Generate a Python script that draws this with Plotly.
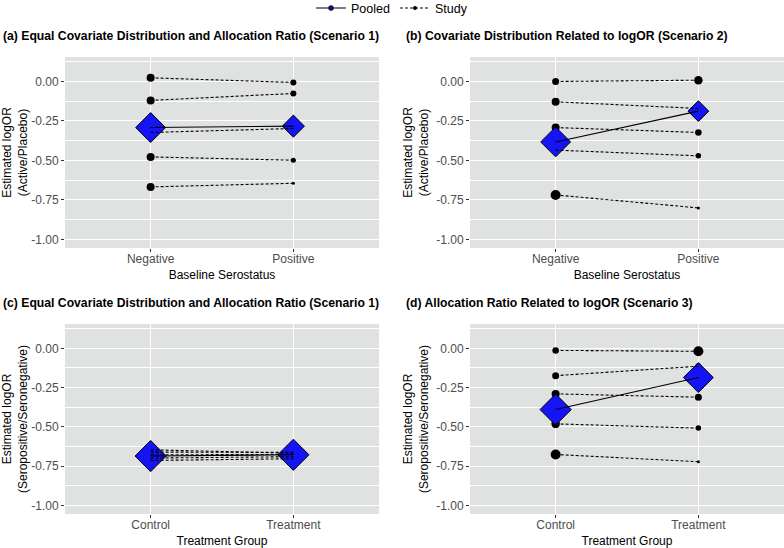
import plotly.graph_objects as go

# ---------------- data ----------------
top_groups = ["Negative", "Positive"]
bottom_groups = ["Control", "Treatment"]
y_tick_vals = [0.0, -0.25, -0.5, -0.75, -1.0]
y_tick_text = ["0.00", "-0.25", "-0.50", "-0.75", "-1.00"]
y_minor_vals = [0.125, -0.125, -0.375, -0.625, -0.875]

titles = [
    "(a) Equal Covariate Distribution and Allocation Ratio (Scenario 1)",
    "(b) Covariate Distribution Related to logOR (Scenario 2)",
    "(c) Equal Covariate Distribution and Allocation Ratio (Scenario 1)",
    "(d) Allocation Ratio Related to logOR (Scenario 3)",
]
y_titles = [
    "Estimated logOR<br>(Active/Placebo)",
    "Estimated logOR<br>(Active/Placebo)",
    "Estimated logOR<br>(Seropositive/Seronegative)",
    "Estimated logOR<br>(Seropositive/Seronegative)",
]
x_titles = ["Baseline Serostatus", "Baseline Serostatus", "Treatment Group", "Treatment Group"]

# panel (a)
a_study_g1 = [0.023, -0.120, -0.323, -0.478, -0.668]
a_study_g2 = [-0.006, -0.076, -0.298, -0.499, -0.645]
a_weight_g1 = [8, 8, 8, 8, 8]
a_weight_g2 = [6, 6, 5, 5, 3]
a_pooled = [-0.292, -0.283]
a_pooled_weight = [23, 17]

# panel (b)
b_study_g1 = [0.000, -0.129, -0.292, -0.435, -0.719]
b_study_g2 = [0.008, -0.171, -0.323, -0.471, -0.801]
b_weight_g1 = [7, 8, 8, 6, 10]
b_weight_g2 = [8.5, 4, 6.5, 5.5, 3]
b_pooled = [-0.383, -0.188]
b_pooled_weight = [23, 16]

# panel (c)
c_study_g1 = [-0.646, -0.661, -0.678, -0.699, -0.714]
c_study_g2 = [-0.668, -0.662, -0.676, -0.690, -0.703]
c_weight_g1 = [5, 5, 5, 5, 5]
c_weight_g2 = [5, 5, 5, 5, 5]
c_pooled = [-0.686, -0.678]
c_pooled_weight = [24, 24]

# panel (d)
d_study_g1 = [-0.013, -0.174, -0.290, -0.481, -0.676]
d_study_g2 = [-0.019, -0.114, -0.311, -0.508, -0.722]
d_weight_g1 = [6.5, 7, 8, 8.5, 10]
d_weight_g2 = [10, 6, 7, 5.5, 3]
d_pooled = [-0.390, -0.186]
d_pooled_weight = [24, 23]

panels = [
    (a_study_g1, a_study_g2, a_weight_g1, a_weight_g2, a_pooled, a_pooled_weight, top_groups),
    (b_study_g1, b_study_g2, b_weight_g1, b_weight_g2, b_pooled, b_pooled_weight, top_groups),
    (c_study_g1, c_study_g2, c_weight_g1, c_weight_g2, c_pooled, c_pooled_weight, bottom_groups),
    (d_study_g1, d_study_g2, d_weight_g1, d_weight_g2, d_pooled, d_pooled_weight, bottom_groups),
]

# ---------------- layout geometry ----------------
W, H = 784, 548
x_doms = [[65 / W, 379 / W], [470 / W, 1.0], [65 / W, 379 / W], [470 / W, 1.0]]
y_doms = [[1 - 248 / H, 1 - 57 / H], [1 - 248 / H, 1 - 57 / H],
          [1 - 514 / H, 1 - 324 / H], [1 - 514 / H, 1 - 324 / H]]
title_pos = [(1, 36), (404, 36), (1, 303), (404, 303)]

FONT = "Liberation Sans, Arial, Helvetica, sans-serif"
PANEL_BG = "#E0E1E1"
BLUE = "#1414F5"

fig = go.Figure()

for i, (g1, g2, w1, w2, pooled, pw, groups) in enumerate(panels):
    xa = "x" if i == 0 else f"x{i+1}"
    ya = "y" if i == 0 else f"y{i+1}"
    # study points
    fig.add_trace(go.Scatter(
        x=[1] * len(g1) + [2] * len(g2), y=g1 + g2, mode="markers",
        marker=dict(color="black", size=w1 + w2, opacity=1, line=dict(width=0)),
        xaxis=xa, yaxis=ya, showlegend=False, hoverinfo="skip"))
    # pooled diamonds
    fig.add_trace(go.Scatter(
        x=[1, 2], y=pooled, mode="markers",
        marker=dict(symbol="diamond", color=BLUE, size=pw, opacity=1,
                    line=dict(color="black", width=1)),
        xaxis=xa, yaxis=ya, showlegend=False, hoverinfo="skip"))
    # study lines
    for s1, s2 in zip(g1, g2):
        fig.add_trace(go.Scatter(
            x=[1, 2], y=[s1, s2], mode="lines",
            line=dict(color="black", width=1.1, dash="3px,2px"),
            xaxis=xa, yaxis=ya, showlegend=False, hoverinfo="skip"))
    # pooled line
    fig.add_trace(go.Scatter(
        x=[1, 2], y=pooled, mode="lines",
        line=dict(color="black", width=1.1),
        xaxis=xa, yaxis=ya, showlegend=False, hoverinfo="skip"))

    axis_common = dict(
        showline=False, zeroline=False, ticks="outside", ticklen=3,
        tickcolor="#333333", tickwidth=1,
        tickfont=dict(family=FONT, size=12, color="#4D4D4D"),
        showgrid=True, gridcolor="white", gridwidth=1.2, automargin=False,
    )
    fig.layout[f"xaxis{'' if i == 0 else i+1}"] = dict(
        domain=x_doms[i], anchor=ya, range=[0.4, 2.6],
        tickmode="array", tickvals=[1, 2], ticktext=groups, ticklabelstandoff=-3,
        title=dict(text=x_titles[i], font=dict(family=FONT, size=12, color="black"), standoff=5),
        **axis_common)
    fig.layout[f"yaxis{'' if i == 0 else i+1}"] = dict(
        domain=y_doms[i], anchor=xa, range=[-1.055, 0.155],
        tickmode="array", tickvals=y_tick_vals, ticktext=y_tick_text,
        minor=dict(tickvals=y_minor_vals, showgrid=True, gridcolor="white", gridwidth=0.6, ticks=""),
        title=dict(text=y_titles[i], font=dict(family=FONT, size=12, color="black"), standoff=5),
        **axis_common)
    fig.add_shape(type="rect", xref=f"{xa} domain", yref=f"{ya} domain",
                  x0=0, x1=1, y0=0, y1=1, fillcolor=PANEL_BG, line=dict(width=0), layer="below")
    tx, ty = title_pos[i]
    fig.add_annotation(text=f"<b>{titles[i]}</b>", xref="paper", yref="paper",
                       x=tx / W, y=1 - ty / H, xanchor="left", yanchor="middle",
                       showarrow=False, font=dict(family=FONT, size=12.2, color="black"))

# legend entries
fig.add_trace(go.Scatter(x=[None], y=[None], mode="lines+markers", name="Pooled",
                         line=dict(color="black", width=1.1),
                         marker=dict(symbol="circle", color="#0E0E80", size=5,
                                     line=dict(color="black", width=0.5))))
fig.add_trace(go.Scatter(x=[None], y=[None], mode="lines+markers", name="Study",
                         line=dict(color="black", width=1.1, dash="3px,2px"),
                         marker=dict(color="black", size=4)))

fig.update_layout(
    width=W, height=H, margin=dict(l=0, r=0, t=0, b=0, pad=0, autoexpand=False),
    paper_bgcolor="white", plot_bgcolor="rgba(0,0,0,0)",
    font=dict(family=FONT, color="black"),
    showlegend=True,
    legend=dict(orientation="h", x=0.5, xanchor="center", y=1.012, yanchor="top",
                font=dict(family=FONT, size=12.5), itemwidth=30, bgcolor="rgba(0,0,0,0)"),
)

fig.write_html("out.html")
